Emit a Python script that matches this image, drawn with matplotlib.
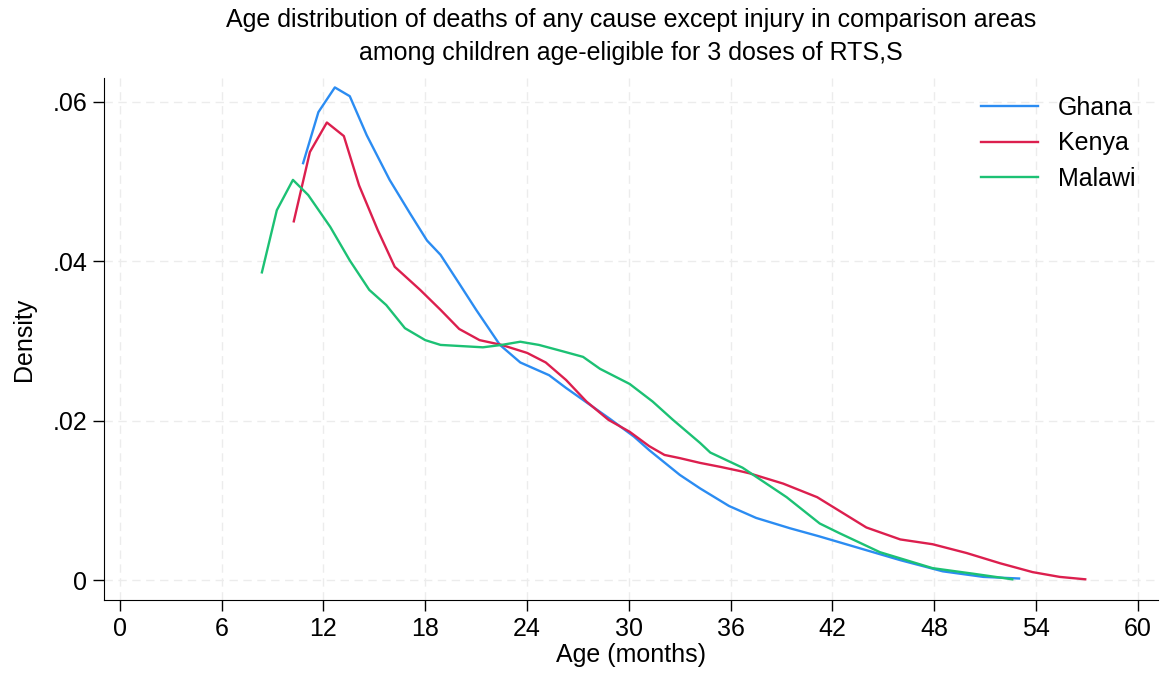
"""Age distribution of deaths (kernel density) in comparison areas, by country"""

import matplotlib
matplotlib.use("Agg")
from matplotlib import pyplot as plt
from matplotlib.ticker import FuncFormatter

plt.rcParams['font.family'] = ['Liberation Sans', 'DejaVu Sans']

# Density curves (age in months, density)
ghana_age = [10.8, 11.7, 12.67, 13.55, 14.55, 15.9, 17.1, 18.1, 18.9, 20.0, 21.0, 22.4,
             23.6, 25.3, 26.3, 27.5, 28.9, 30.3, 31.2, 33.0, 34.2, 35.9, 37.5, 39.5,
             41.2, 43.6, 46.0, 48.5, 50.9, 53.0]
ghana_density = [0.0523, 0.0587, 0.0618, 0.0607, 0.0558, 0.0502, 0.0460, 0.0426, 0.0408,
                 0.0372, 0.0339, 0.0295, 0.0273, 0.0257, 0.0241, 0.0223, 0.0202, 0.0180,
                 0.0163, 0.0132, 0.0115, 0.0093, 0.0078, 0.0065, 0.0055, 0.0040, 0.0025,
                 0.0011, 0.0004, 0.0002]

kenya_age = [10.25, 11.2, 12.2, 13.2, 14.1, 15.2, 16.2, 17.7, 18.9, 20.0, 21.2, 22.5,
             24.0, 25.1, 26.3, 27.5, 28.8, 30.05, 31.2, 32.1, 33.0, 34.2, 35.4, 36.5,
             37.1, 39.1, 41.1, 44.0, 46.0, 47.9, 49.9, 51.9, 53.8, 55.4, 56.9]
kenya_density = [0.0450, 0.0537, 0.0574, 0.0557, 0.0495, 0.0439, 0.0393, 0.0364, 0.0339,
                 0.0315, 0.0301, 0.0295, 0.0285, 0.0273, 0.0251, 0.0224, 0.0201, 0.0186,
                 0.0168, 0.0157, 0.0153, 0.0147, 0.0142, 0.0137, 0.0134, 0.0121, 0.0104,
                 0.0066, 0.0051, 0.0045, 0.0034, 0.0021, 0.0010, 0.0004, 0.0001]

malawi_age = [8.37, 9.25, 10.2, 11.1, 12.4, 13.55, 14.7, 15.7, 16.8, 18.0, 18.9, 21.4,
              22.5, 23.6, 24.7, 26.1, 27.3, 28.3, 30.05, 31.4, 32.6, 34.2, 34.8, 36.7,
              39.3, 41.25, 42.4, 44.8, 47.9, 50.3, 52.6]
malawi_density = [0.0386, 0.0464, 0.0502, 0.0483, 0.0443, 0.0401, 0.0364, 0.0345, 0.0316,
                  0.0301, 0.0295, 0.0292, 0.0295, 0.0299, 0.0295, 0.0287, 0.0280, 0.0265,
                  0.0246, 0.0224, 0.0201, 0.0172, 0.0160, 0.0141, 0.0104, 0.0071, 0.0059,
                  0.0035, 0.0015, 0.0008, 0.0001]

x_ticks = list(range(0, 61, 6))
y_ticks = [0, 0.02, 0.04, 0.06]

fig = plt.figure(figsize=(11.64, 6.77), dpi=100)
ax = fig.add_axes([0.0893, 0.1137, 0.9057, 0.7713])

ax.plot(ghana_age, ghana_density, color="#2b8cf2", lw=1.7, label="Ghana")
ax.plot(kenya_age, kenya_density, color="#dc1f4e", lw=1.7, label="Kenya")
ax.plot(malawi_age, malawi_density, color="#1cc174", lw=1.7, label="Malawi")

ax.set_xlim(-0.94, 61.2)
ax.set_ylim(-0.0025, 0.063)
ax.set_xticks(x_ticks)
ax.set_yticks(y_ticks)
ax.yaxis.set_major_formatter(FuncFormatter(lambda v, p: "0" if v == 0 else ("%.2f" % v).lstrip("0")))
ax.grid(True, color="#ececec", lw=1.0, ls=(0, (6, 4)))
ax.set_axisbelow(True)
for side in ["top", "right"]:
    ax.spines[side].set_visible(False)
ax.tick_params(direction="out", length=8, width=1, labelsize=18, pad=4)

ax.set_xlabel("Age (months)", fontsize=18, labelpad=2)
ax.set_ylabel("Density", fontsize=18, labelpad=12)
fig.suptitle("Age distribution of deaths of any cause except injury in comparison areas\n"
             "among children age-eligible for 3 doses of RTS,S",
             fontsize=18, x=0.542, y=0.988, linespacing=1.45)

ax.legend(loc="upper right", frameon=False, fontsize=18, handlelength=2.3,
          labelspacing=0.45, handletextpad=0.8, bbox_to_anchor=(1.0, 1.008))

fig.savefig("out.png", dpi=100)
